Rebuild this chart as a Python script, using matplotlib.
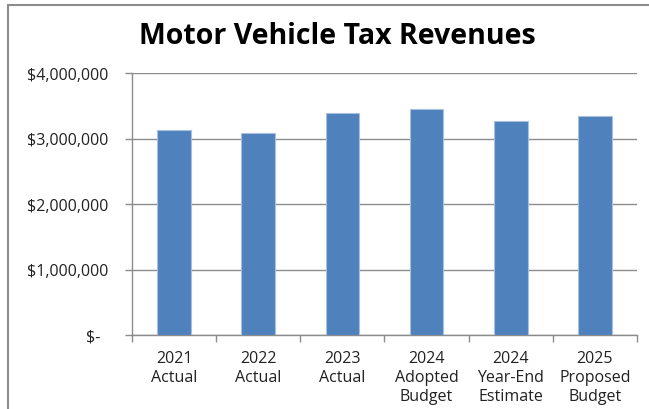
import numpy as np
import matplotlib
matplotlib.use("Agg")
import matplotlib.pyplot as plt
from matplotlib.patches import Rectangle
from matplotlib.ticker import FuncFormatter, FixedLocator

# revenue by budget period
categories = ["2021\nActual", "2022\nActual", "2023\nActual",
              "2024\nAdopted\nBudget", "2024\nYear-End\nEstimate",
              "2025\nProposed\nBudget"]
revenues = [3130000, 3090000, 3385000, 3445000, 3260000, 3350000]
y_ticks = [0, 1000000, 2000000, 3000000, 4000000]

plt.rcParams["font.family"] = ["Open Sans", "DejaVu Sans"]

fig = plt.figure(figsize=(6.49, 4.10), dpi=100)
ax = fig.add_axes([132 / 649, 1 - 336 / 410, 505 / 649, 262 / 410])

# outer chart border
fig.patches.append(Rectangle((8 / 649, -0.1), 1.2, 1 - 6 / 410 + 0.1,
                             transform=fig.transFigure, fill=False,
                             edgecolor="#8c8c8c", linewidth=1.5))

x = np.arange(len(categories))
ax.bar(x, revenues, width=0.4, color="#4F81BD", edgecolor="#A7C0DE",
       linewidth=0.8, zorder=3)

ax.set_xlim(-0.5, len(categories) - 0.5)
ax.set_ylim(0, 4000000)
ax.set_yticks(y_ticks)
ax.yaxis.set_major_formatter(
    FuncFormatter(lambda v, _: "$-  " if v == 0 else f"${v:,.0f}"))
ax.grid(axis="y", color="#8c8c8c", linewidth=1, zorder=0)

ax.set_xticks(x)
ax.set_xticklabels(categories, linespacing=1.25)
ax.xaxis.set_minor_locator(FixedLocator(np.arange(-0.5, len(categories), 1)))
ax.tick_params(axis="x", which="major", length=0, pad=11, labelsize=11.5,
               labelcolor="#222222")
ax.tick_params(axis="x", which="minor", length=5, color="#8c8c8c", width=1)
ax.tick_params(axis="y", length=5, color="#8c8c8c", width=1, pad=12,
               labelsize=11.5, labelcolor="#222222")

for side in ["top", "right"]:
    ax.spines[side].set_visible(False)
for side in ["left", "bottom"]:
    ax.spines[side].set_color("#8c8c8c")
    ax.spines[side].set_linewidth(1)

fig.text(337 / 649, 1 - 36 / 410, "Motor Vehicle Tax Revenues",
         ha="center", va="center", fontsize=20.5, fontweight="bold",
         color="black")

fig.savefig("out.png", dpi=100)
